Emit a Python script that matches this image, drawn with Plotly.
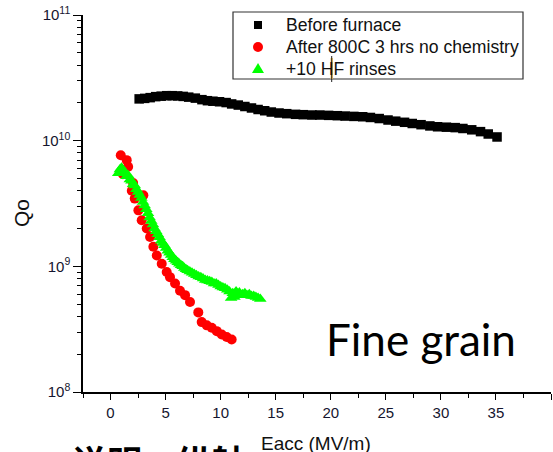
import plotly.graph_objects as go

# ---- data -------------------------------------------------------------
before_e = [2.6, 3.1, 3.6, 4.1, 4.6, 5.1, 5.6, 6.1, 6.6, 7.1, 7.7, 8.3, 8.8, 9.3,
            9.9, 10.5, 11.0, 11.6, 12.2, 12.8, 13.4, 14.0, 14.6, 15.3, 16.0, 16.8,
            17.5, 18.3, 19.0, 19.8, 20.6, 21.3, 22.1, 22.9, 23.6, 24.4, 25.2, 25.9,
            26.7, 27.4, 28.2, 29.0, 29.7, 30.5, 31.3, 32.0, 32.8, 33.6, 34.3, 35.1]
before_q = [2.15e10, 2.17e10, 2.20e10, 2.24e10, 2.26e10, 2.28e10, 2.28e10, 2.27e10,
            2.25e10, 2.22e10, 2.18e10, 2.12e10, 2.08e10, 2.06e10, 2.04e10, 2.01e10,
            1.96e10, 1.92e10, 1.87e10, 1.82e10, 1.77e10, 1.73e10, 1.69e10, 1.66e10,
            1.64e10, 1.62e10, 1.61e10, 1.60e10, 1.60e10, 1.59e10, 1.58e10, 1.57e10,
            1.56e10, 1.55e10, 1.53e10, 1.50e10, 1.46e10, 1.43e10, 1.40e10, 1.37e10,
            1.34e10, 1.31e10, 1.29e10, 1.28e10, 1.27e10, 1.25e10, 1.22e10, 1.18e10,
            1.13e10, 1.07e10]

after_e = [0.93, 1.13, 1.47, 1.6, 1.93, 2.05, 2.2, 2.53, 2.83, 2.98, 3.29, 3.59, 3.89,
           4.2, 4.65, 5.1, 5.4, 5.86, 6.31, 6.77, 7.22, 7.97, 8.28, 8.74, 9.19, 9.65,
           10.1, 10.55, 11.0]
after_q = [7.66e9, 5.4e9, 7.0e9, 6.2e9, 4.0e9, 4.6e9, 3.46e9, 2.79e9, 2.33e9, 3.68e9,
           2.0e9, 1.71e9, 1.43e9, 1.22e9, 1.05e9, 9.0e8, 8.2e8, 7.3e8, 6.4e8, 5.9e8,
           5.2e8, 4.3e8, 3.6e8, 3.39e8, 3.25e8, 3.05e8, 2.87e8, 2.74e8, 2.62e8]

hf_e = [0.70, 0.85, 1.00, 1.15, 1.30, 1.45, 1.60, 1.75, 1.90, 2.05, 2.20, 2.35, 2.50,
        2.65, 2.80, 2.95, 3.10, 3.25, 3.40, 3.55, 3.70, 3.85, 4.00, 4.15, 4.30, 4.45,
        4.60, 4.75, 4.90, 5.05, 5.20, 5.35, 5.50, 5.65, 5.80, 5.95, 6.10, 6.25, 6.40,
        6.55, 6.70, 6.85, 7.00, 7.20, 7.40, 7.60, 7.80, 8.00, 8.20, 8.40, 8.60, 8.80,
        9.00, 9.20, 9.40, 9.60, 9.80, 10.00, 10.20, 10.40, 10.60, 10.80, 10.95, 11.10,
        11.25, 11.40, 11.55, 11.70, 11.85, 12.00, 12.20, 12.40, 12.60, 12.80, 13.00,
        13.20, 13.40, 13.60]
hf_q = [5.5e9, 5.9e9, 6.1e9, 5.8e9, 5.6e9, 5.2e9, 5.3e9, 4.9e9, 4.8e9, 4.5e9, 4.4e9,
        4.1e9, 3.9e9, 3.7e9, 3.5e9, 3.25e9, 3.05e9, 2.85e9, 2.65e9, 2.45e9, 2.3e9,
        2.15e9, 2.0e9, 1.9e9, 1.8e9, 1.7e9, 1.6e9, 1.53e9, 1.47e9, 1.4e9, 1.33e9,
        1.28e9, 1.23e9, 1.18e9, 1.14e9, 1.11e9, 1.08e9, 1.05e9, 1.02e9, 1.0e9, 9.7e8,
        9.5e8, 9.3e8, 9.1e8, 8.9e8, 8.7e8, 8.5e8, 8.3e8, 8.2e8, 8.0e8, 7.8e8, 7.7e8,
        7.6e8, 7.5e8, 7.3e8, 7.3e8, 7.1e8, 6.9e8, 6.8e8, 6.7e8, 6.5e8, 6.3e8, 5.6e8,
        6.1e8, 5.7e8, 6.3e8, 6.0e8, 6.2e8, 5.9e8, 6.0e8, 6.1e8, 5.9e8, 6.0e8, 5.8e8,
        5.8e8, 5.7e8, 5.6e8, 5.5e8]

series_names = ["Before furnace", "After 800C 3 hrs no chemistry", "+10 HF rinses"]
y_tick_vals = [1e8, 1e9, 1e10, 1e11]
y_tick_text = ["10<sup>8</sup>", "10<sup>9</sup>", "10<sup>10</sup>", "10<sup>11</sup>"]

# ---- geometry helpers (pixel -> paper) --------------------------------
W, H = 553, 452
ML, MR, MT, MB = 83, 2, 15, 60
PW, PH = W - ML - MR, H - MT - MB


def px(x):
    return (x - ML) / PW


def py(y):
    return (H - MB - y) / PH


AX_FONT = "Liberation Sans, Arial, sans-serif"
TICK_COLOR = "#15152e"

fig = go.Figure()
fig.add_trace(go.Scatter(x=before_e, y=before_q, mode="markers", name=series_names[0],
                         marker=dict(symbol="square", size=9.5, color="black", line=dict(width=0))))
fig.add_trace(go.Scatter(x=after_e, y=after_q, mode="markers", name=series_names[1],
                         marker=dict(symbol="circle", size=10, color="#ff0000", line=dict(width=0))))
fig.add_trace(go.Scatter(x=hf_e, y=hf_q, mode="markers", name=series_names[2],
                         marker=dict(symbol="triangle-up", size=11, color="#00ff00", line=dict(width=0))))

minor_y = [k * 10 ** d for d in range(8, 11) for k in range(2, 10)]

fig.update_layout(
    width=W, height=H,
    margin=dict(l=ML, r=MR, t=MT, b=MB),
    paper_bgcolor="white", plot_bgcolor="white",
    showlegend=False,
    xaxis=dict(range=[-2.5, 40], tick0=0, dtick=5, showgrid=False, zeroline=False,
               showline=True, linecolor="black", linewidth=1.5,
               ticks="outside", ticklen=6, tickwidth=1.3, tickcolor="black",
               tickfont=dict(family=AX_FONT, size=15, color=TICK_COLOR),
               minor=dict(dtick=2.5, ticks="outside", ticklen=4, tickwidth=1.2, tickcolor="black",
                          showgrid=False)),
    yaxis=dict(type="log", range=[8, 11], showgrid=False, zeroline=False,
               showline=True, linecolor="black", linewidth=1.5,
               tickvals=y_tick_vals, ticktext=y_tick_text,
               ticks="outside", ticklen=8, tickwidth=1.3, tickcolor="black",
               tickfont=dict(family=AX_FONT, size=15, color=TICK_COLOR),
               minor=dict(tickvals=minor_y, ticks="outside", ticklen=4, tickwidth=1.2,
                          tickcolor="black", showgrid=False)),
)

annotations = [
    dict(text="Eacc (MV/m)", x=px(316), y=py(443), xref="paper", yref="paper",
         showarrow=False, xanchor="center", yanchor="middle",
         font=dict(family=AX_FONT, size=19, color="#111")),
    dict(text="Qo", x=px(22), y=py(213), xref="paper", yref="paper", textangle=-90,
         showarrow=False, xanchor="center", yanchor="middle",
         font=dict(family=AX_FONT, size=21, color="#111")),
    dict(text="Fine grain", x=px(324), y=py(339), xref="paper", yref="paper",
         showarrow=False, xanchor="left", yanchor="middle",
         font=dict(family="Lato, Open Sans, sans-serif", size=44, color="black")),
    dict(text="说明：纵轴", x=px(70), y=py(433), xref="paper", yref="paper",
         showarrow=False, xanchor="left", yanchor="top",
         font=dict(family="Noto Sans CJK SC", size=35, color="black", weight="bold")),
]

# legend box drawn by hand
legend_rows = [25, 47, 69]
legend_cols = ["black", "#ff0000", "#00ff00"]
shapes = [dict(type="rect", xref="paper", yref="paper", x0=px(233), x1=px(523),
               y0=py(79), y1=py(12), line=dict(color="#333", width=1.2), fillcolor="white",
               layer="above")]
for name, row in zip(series_names, legend_rows):
    annotations.append(dict(text=name, x=px(284), y=py(row), xref="paper", yref="paper",
                            showarrow=False, xanchor="left", yanchor="middle",
                            font=dict(family=AX_FONT, size=17.6, color="#111")))
kx = px(258)
shapes.append(dict(type="rect", xref="paper", yref="paper", xsizemode="pixel", ysizemode="pixel",
                   xanchor=kx, yanchor=py(legend_rows[0]), x0=-4, x1=4, y0=-4, y1=4,
                   fillcolor=legend_cols[0], line=dict(width=0), layer="above"))
shapes.append(dict(type="circle", xref="paper", yref="paper", xsizemode="pixel", ysizemode="pixel",
                   xanchor=kx, yanchor=py(legend_rows[1]), x0=-5, x1=5, y0=-5, y1=5,
                   fillcolor=legend_cols[1], line=dict(width=0), layer="above"))
shapes.append(dict(type="path", xref="paper", yref="paper", xsizemode="pixel", ysizemode="pixel",
                   xanchor=kx, yanchor=py(legend_rows[2]), path="M -6 -4 L 6 -4 L 0 6 Z",
                   fillcolor=legend_cols[2], line=dict(width=0), layer="above"))
# text cursor in the legend's last row
shapes.append(dict(type="rect", xref="paper", yref="paper", x0=px(330.5), x1=px(333),
                   y0=py(79), y1=py(58), fillcolor="#f2c46a", line=dict(width=0), layer="above"))
shapes.append(dict(type="line", xref="paper", yref="paper", x0=px(331.7), x1=px(331.7),
                   y0=py(82), y1=py(56), line=dict(color="#222", width=1), layer="above"))

fig.update_layout(annotations=annotations, shapes=shapes)
fig.write_html("out.html")
